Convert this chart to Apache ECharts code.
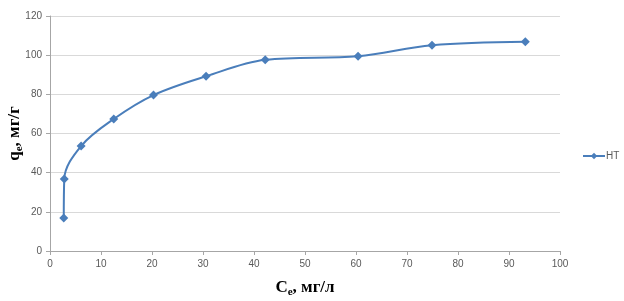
<!DOCTYPE html>
<html>
<head>
<meta charset="utf-8">
<script src="https://cdn.jsdelivr.net/npm/echarts@6/dist/echarts.min.js"></script>
<style>
  html, body { margin: 0; padding: 0; background: #fff; }
  #chart { width: 624px; height: 301px; }
</style>
</head>
<body>
<div id="chart"></div>
<script>
// Ce, mg/l and qe, mg/g
var ceValues = [2.7, 2.8, 6.1, 12.5, 20.3, 30.6, 42.2, 60.4, 74.9, 93.2];
var qeValues = [16.8, 36.8, 53.6, 67.4, 79.6, 89.2, 97.6, 99.5, 105.1, 106.9];
var seriesName = "HT";

var C = {
  line: "#4a7ebb",
  grid: "#d9d9d9",
  axis: "#a6a6a6",
  label: "#595959"
};

var chart = echarts.init(document.getElementById("chart"));

var points = ceValues.map(function (x, i) { return [x, qeValues[i]]; });

var nameRich = {
  b: { fontFamily: "Liberation Serif", fontWeight: "bold", fontSize: 17, color: "#000" },
  s: { fontFamily: "Liberation Serif", fontWeight: "bold", fontSize: 11, color: "#000", verticalAlign: "bottom", padding: [10, 0, 0, 0] }
};

chart.setOption({
  animation: false,
  backgroundColor: "#fff",
  grid: { left: 50, right: 64, top: 16, bottom: 50, outerBoundsMode: "none", containLabel: false },
  legend: {
    data: [seriesName],
    left: 582,
    top: 151,
    padding: 0,
    itemWidth: 22,
    itemHeight: 8,
    itemGap: 4,
    textStyle: { color: C.label, fontSize: 10, fontFamily: "Liberation Sans", padding: [0, 0, 0, -4] }
  },
  xAxis: {
    type: "value",
    min: 0,
    max: 100,
    interval: 10,
    name: "{b|C}{s|e}{b|, мг/л}",
    nameLocation: "middle",
    nameMoveOverlap: false,
    nameGap: 26,
    nameTextStyle: { rich: nameRich },
    axisLine: { lineStyle: { color: C.axis } },
    axisTick: { show: true, length: 4, lineStyle: { color: C.axis } },
    axisLabel: { color: C.label, fontSize: 10, fontFamily: "Liberation Sans", margin: 8 },
    splitLine: { show: false }
  },
  yAxis: {
    type: "value",
    min: 0,
    max: 120,
    interval: 20,
    name: "{b|q}{s|e}{b|, мг/г}",
    nameLocation: "middle",
    nameRotate: 90,
    nameMoveOverlap: false,
    nameGap: 25,
    nameTextStyle: { rich: nameRich },
    axisLine: { show: true, lineStyle: { color: C.axis } },
    axisTick: { show: true, length: 4, lineStyle: { color: C.axis } },
    axisLabel: { color: C.label, fontSize: 10, fontFamily: "Liberation Sans", margin: 8 },
    splitLine: { lineStyle: { color: C.grid, width: 1 } }
  },
  series: [
    {
      name: seriesName,
      type: "line",
      data: points,
      smooth: 0.35,
      symbol: "diamond",
      symbolSize: 9,
      itemStyle: { color: C.line },
      lineStyle: { color: C.line, width: 2 }
    }
  ]
});
</script>
</body>
</html>
